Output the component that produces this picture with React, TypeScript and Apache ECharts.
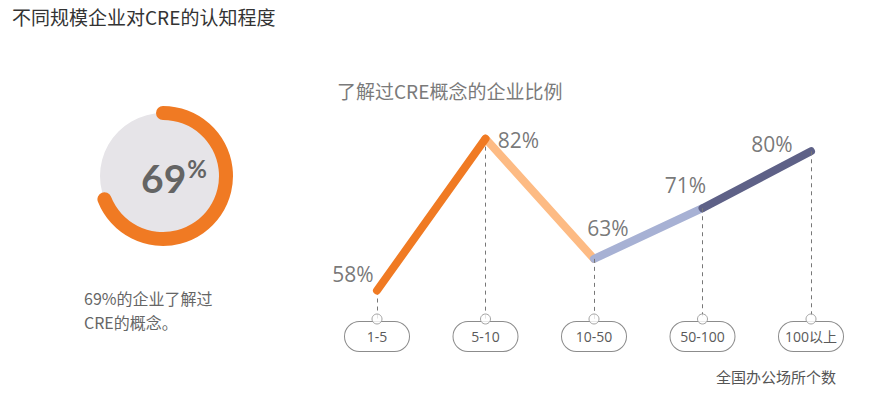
import React, { useEffect, useRef } from "react";
import * as echarts from "echarts";

const categories = ["1-5", "5-10", "10-50", "50-100", "100以上"];
const awareness = [58, 82, 63, 71, 80];
const overallAwareness = 69;

const titleText = "不同规模企业对CRE的认知程度";
const subtitleText = "了解过CRE概念的企业比例";
const axisNameText = "全国办公场所个数";
const noteLine1 = overallAwareness + "%的企业了解过";
const noteLine2 = "CRE的概念。";

// styling (not data)
const segmentColors = ["#F07A23", "#FDBB84", "#A7B1D4", "#5E6187"];
const labelOffsets = [
  [-24, -17],
  [33, 1],
  [14, -31],
  [-17, -23],
  [-39, -7],
];
const Y_MIN = 53.5;
const Y_MAX = 90;

const LATIN = "'Open Sans', 'Noto Sans CJK SC', sans-serif";
const CJK = "'Noto Sans CJK SC', 'Open Sans', sans-serif";

export default function App() {
  const ref = useRef<HTMLDivElement>(null);
  useEffect(() => {
    document.body.style.margin = "0";
    if (!ref.current) return;
    const chart = echarts.init(ref.current, null, { renderer: "svg" });

    const segmentSeries = segmentColors.map((color, i) => ({
      type: "line",
      name: "seg" + i,
      data: awareness.map((v, j) => (j === i || j === i + 1 ? v : null)),
      symbol: "none",
      connectNulls: false,
      z: i === 0 ? 6 : 3 + i * 0.1,
      lineStyle: { color, width: 8, cap: "round", join: "round" },
      silent: true,
    }));

    const option: any = {
      animation: false,
      backgroundColor: "#ffffff",
      grid: { left: 322.75, right: 22.75, top: 88, bottom: 94 },
      xAxis: {
        type: "category",
        data: categories,
        boundaryGap: true,
        axisLine: { show: false, onZero: false },
        axisTick: { show: false },
        splitLine: { show: false },
        axisLabel: {
          margin: 3,
          color: "#5a5a5a",
          fontSize: 14,
          fontFamily: LATIN,
          width: 64,
          height: 29,
          lineHeight: 29,
          align: "center",
          borderColor: "#8c8c8c",
          borderWidth: 1,
          borderRadius: 15,
          backgroundColor: "#fff",
          padding: 0,
        },
      },
      yAxis: {
        type: "value",
        min: Y_MIN,
        max: Y_MAX,
        show: false,
      },
      series: [
        {
          type: "line",
          name: "guides",
          data: awareness,
          symbol: "none",
          lineStyle: { opacity: 0 },
          silent: true,
          z: 1,
          markLine: {
            silent: true,
            symbol: ["none", "none"],
            label: { show: false },
            lineStyle: { color: "#777", width: 1, type: [4, 4] },
            data: categories.map((c, i) => [
              { coord: [c, awareness[i]] },
              { coord: [c, Y_MIN] },
            ]),
          },
        },
        ...segmentSeries,
        {
          type: "scatter",
          name: "anchors",
          data: categories.map((c) => [c, Y_MIN]),
          symbol: "circle",
          symbolSize: 10,
          clip: false,
          z: 8,
          silent: true,
          itemStyle: { color: "#fff", borderColor: "#8c8c8c", borderWidth: 1 },
        },
        {
          type: "scatter",
          name: "labels",
          symbolSize: 1,
          clip: false,
          z: 9,
          silent: true,
          itemStyle: { color: "rgba(0,0,0,0)" },
          data: awareness.map((v, i) => ({
            value: [categories[i], v],
            label: {
              show: true,
              position: "inside",
              offset: labelOffsets[i],
              formatter: v + "%",
              color: "#555",
              fontSize: 21,
              fontFamily: LATIN,
            },
          })),
        },
        {
          type: "pie",
          name: "disc",
          center: [163, 176],
          radius: [0, 63],
          silent: true,
          label: { show: false },
          labelLine: { show: false },
          itemStyle: { color: "#E6E4E8" },
          data: [{ value: 1, name: "disc" }],
          z: 1,
        },
        {
          type: "gauge",
          name: "overall",
          center: [163, 176],
          radius: 70,
          startAngle: 90,
          endAngle: -270,
          min: 0,
          max: 100,
          z: 4,
          silent: true,
          pointer: { show: false },
          progress: {
            show: true,
            width: 14,
            roundCap: true,
            itemStyle: { color: "#F07A23" },
          },
          axisLine: { lineStyle: { width: 14, color: [[1, "rgba(0,0,0,0)"]] } },
          axisTick: { show: false },
          splitLine: { show: false },
          axisLabel: { show: false },
          title: { show: false },
          detail: {
            show: true,
            offsetCenter: [11, 2],
            formatter: (v: number) => "{a|" + v + "}{b|%}",
            rich: {
              a: {
                fontSize: 39,
                fontWeight: "bold",
                color: "#646464",
                fontFamily: "Lato, 'Open Sans', sans-serif",
                lineHeight: 44,
              },
              b: {
                fontSize: 24,
                fontWeight: "bold",
                color: "#646464",
                fontFamily: "Lato, 'Open Sans', sans-serif",
                verticalAlign: "top",
                lineHeight: 24,
                padding: [0, 0, 18, 1],
              },
            },
          },
          data: [{ value: overallAwareness }],
        },
      ],
      graphic: [
        {
          type: "text",
          x: 12,
          y: 16,
          style: {
            text: titleText,
            fill: "#333",
            font: "19px " + CJK,
            verticalAlign: "middle",
          },
        },
        {
          type: "text",
          x: 337,
          y: 90,
          style: {
            text: subtitleText,
            fill: "#7a7a7a",
            font: "19px " + CJK,
            verticalAlign: "middle",
          },
        },
        {
          type: "text",
          x: 84,
          y: 298,
          style: {
            text: noteLine1,
            fill: "#666",
            font: "16px " + CJK,
            verticalAlign: "middle",
          },
        },
        {
          type: "text",
          x: 84,
          y: 322,
          style: {
            text: noteLine2,
            fill: "#666",
            font: "16px " + CJK,
            verticalAlign: "middle",
          },
        },
        {
          type: "text",
          x: 716,
          y: 376,
          style: {
            text: axisNameText,
            fill: "#555",
            font: "15px " + CJK,
            verticalAlign: "middle",
          },
        },
      ],
    };
    chart.setOption(option);
    return () => chart.dispose();
  }, []);
  return <div ref={ref} style={{ width: 888, height: 413 }} />;
}
